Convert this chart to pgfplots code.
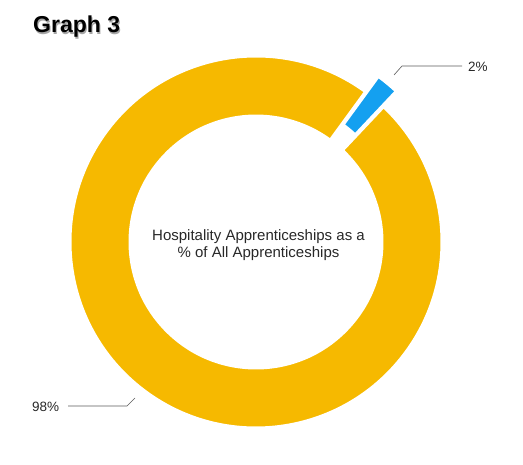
\documentclass[border=0pt]{standalone}
\usepackage{pgfplots}
\pgfplotsset{compat=1.18}
\usepackage{pgfplotstable}
\usepackage{fontspec}
\setmainfont{Liberation Sans}

\definecolor{ringyellow}{RGB}{246,185,0}
\definecolor{ringblue}{RGB}{20,160,240}
\definecolor{labelgray}{RGB}{40,40,40}
\definecolor{leadergray}{RGB}{90,90,90}

% share of all apprenticeships (%)
\pgfplotstableread{
label value
Hospitality 2
Other 98
}\shares

\begin{document}
\begin{tikzpicture}
\pgfplotstablegetelem{0}{value}\of\shares \let\vblue\pgfplotsretval
\pgfplotstablegetelem{1}{value}\of\shares \let\vyellow\pgfplotsretval
\pgfmathsetmacro{\aA}{50.3-1.8*\vblue}
\pgfmathsetmacro{\aB}{50.3+1.8*\vblue}
\pgfmathsetmacro{\aC}{\aB+3.6*\vyellow}
\begin{axis}[
    x=1pt, y=1pt,
    xmin=0, xmax=523, ymin=0, ymax=464,
    scale only axis,
    hide axis,
    clip=false,
  ]
  \addplot[draw=none] coordinates {(0,0) (523,464)};

  \begin{scope}[shift={(axis cs:256,222)}]
    % 98%
    \filldraw[fill=ringyellow, draw=white, line width=3pt]
      (\aB:126pt) -- (\aB:186pt) arc[start angle=\aB, end angle=\aC, radius=186pt]
      -- (\aC:126pt) arc[start angle=\aC, end angle=\aB, radius=126pt] -- cycle;
    % 2%, pulled out
    \begin{scope}[shift={(50.3:20pt)}]
      \filldraw[fill=ringblue, draw=white, line width=3pt]
        (\aA:126pt) -- (\aA:186pt) arc[start angle=\aA, end angle=\aB, radius=186pt]
        -- (\aB:126pt) arc[start angle=\aB, end angle=\aA, radius=126pt] -- cycle;
    \end{scope}
  \end{scope}

  % leader lines
  \draw[leadergray, line width=0.6pt] (axis cs:394,389) -- (axis cs:402,398) -- (axis cs:462,398);
  \draw[leadergray, line width=0.6pt] (axis cs:68,58) -- (axis cs:127,58) -- (axis cs:135,66);
  \node[anchor=base west, font=\fontsize{13.5}{16}\selectfont, text=labelgray, inner sep=0pt] at (axis cs:468,392) {2\%};
  \node[anchor=base west, font=\fontsize{13.5}{16}\selectfont, text=labelgray, inner sep=0pt] at (axis cs:32,52) {98\%};

  % centre text
  \node[anchor=base, font=\fontsize{15}{17}\selectfont, text=labelgray, inner sep=0pt] at (axis cs:258.5,223.3) {Hospitality Apprenticeships as a};
  \node[anchor=base, font=\fontsize{15}{17}\selectfont, text=labelgray, inner sep=0pt] at (axis cs:258.5,206.3) {\% of All Apprenticeships};

  % title with soft shadow
  \node[anchor=base west, font=\fontsize{23}{27}\bfseries, text=black!35, inner sep=0pt] at (axis cs:34,429.8) {Graph 3};
  \node[anchor=base west, font=\fontsize{23}{27}\bfseries, text=black, inner sep=0pt] at (axis cs:33,431) {Graph 3};
\end{axis}
\end{tikzpicture}
\end{document}
